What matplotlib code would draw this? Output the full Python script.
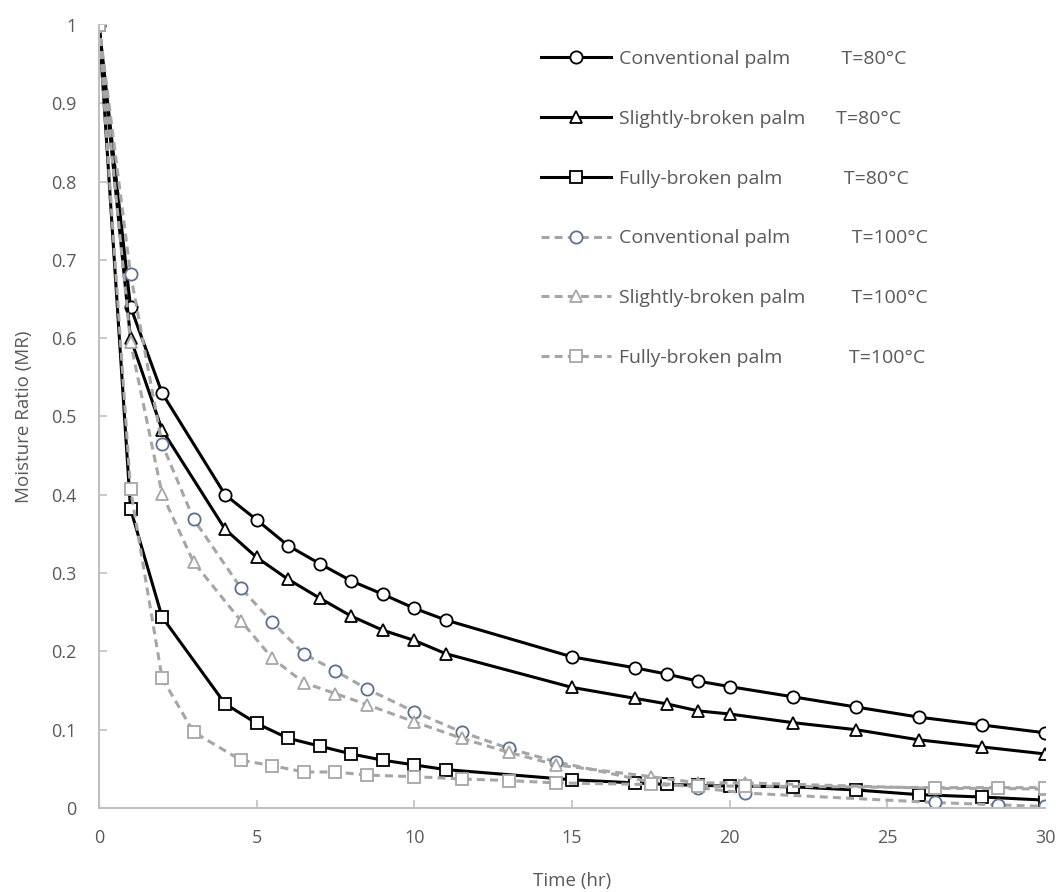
import matplotlib
matplotlib.use('Agg')
import matplotlib.pyplot as plt

plt.rcParams['font.family'] = ['Open Sans', 'DejaVu Sans']

# drying time (hr)
t_80 = [0, 1, 2, 4, 5, 6, 7, 8, 9, 10, 11, 15, 17, 18, 19, 20, 22, 24, 26, 28, 30]
t_100 = [0, 1, 2, 3, 4.5, 5.5, 6.5, 7.5, 8.5, 10, 11.5, 13, 14.5, 17.5, 19, 20.5, 26.5, 28.5, 30]

# moisture ratio, T=80°C
conv_80 = [1.0, 0.64, 0.53, 0.40, 0.368, 0.335, 0.312, 0.29, 0.273, 0.255, 0.24,
           0.193, 0.179, 0.171, 0.162, 0.155, 0.142, 0.129, 0.116, 0.106, 0.096]
slight_80 = [1.0, 0.60, 0.483, 0.356, 0.32, 0.292, 0.268, 0.245, 0.227, 0.214, 0.197,
             0.154, 0.14, 0.133, 0.124, 0.12, 0.109, 0.1, 0.087, 0.078, 0.069]
full_80 = [1.0, 0.382, 0.244, 0.133, 0.108, 0.089, 0.079, 0.069, 0.061, 0.055, 0.049,
           0.036, 0.032, 0.030, 0.029, 0.028, 0.027, 0.023, 0.017, 0.014, 0.010]

# moisture ratio, T=100°C
conv_100 = [1.0, 0.682, 0.465, 0.369, 0.281, 0.237, 0.197, 0.175, 0.152, 0.123, 0.097,
            0.076, 0.059, 0.033, 0.026, 0.019, 0.007, 0.004, 0.002]
slight_100 = [1.0, 0.595, 0.401, 0.314, 0.239, 0.191, 0.16, 0.146, 0.132, 0.11, 0.089,
              0.071, 0.055, 0.040, 0.032, 0.032, 0.025, 0.025, 0.024]
full_100 = [1.0, 0.407, 0.166, 0.097, 0.061, 0.054, 0.046, 0.046, 0.042, 0.04, 0.037,
            0.035, 0.032, 0.030, 0.028, 0.028, 0.026, 0.026, 0.026]

labels = ['Conventional palm' + ' ' * 10 + 'T=80°C',
          'Slightly-broken palm' + ' ' * 6 + 'T=80°C',
          'Fully-broken palm' + ' ' * 12 + 'T=80°C',
          'Conventional palm' + ' ' * 12 + 'T=100°C',
          'Slightly-broken palm' + ' ' * 9 + 'T=100°C',
          'Fully-broken palm' + ' ' * 13 + 'T=100°C']

fig = plt.figure(figsize=(10.62, 8.92), dpi=100)
ax = fig.add_axes([0.0932, 0.0942, 0.8908, 0.8778])

blk = dict(color='black', lw=2.2, mfc='white', ms=8.8, mew=1.3)
gry = dict(color='#A6A6A6', lw=2.2, ls=(0, (2.6, 1.7)), mfc='white', ms=8.8, mew=1.3)

ax.plot(t_80, conv_80, marker='o', mec='black', label=labels[0], **blk)
ax.plot(t_80, slight_80, marker='^', mec='black', label=labels[1], **blk)
ax.plot(t_80, full_80, marker='s', mec='black', label=labels[2], **blk)
ax.plot(t_100, conv_100, marker='o', mec='#5B7090', label=labels[3], **gry)
ax.plot(t_100, slight_100, marker='^', mec='#A6A6A6', label=labels[4], **gry)
ax.plot(t_100, full_100, marker='s', mec='#A6A6A6', label=labels[5], **gry)

ax.set_xlim(0, 30)
ax.set_ylim(0, 1)
ax.set_xticks(range(0, 31, 5))
ax.set_yticks([i / 10 for i in range(11)])
ax.set_yticklabels(['0', '0.1', '0.2', '0.3', '0.4', '0.5', '0.6', '0.7', '0.8', '0.9', '1'])

for s in ['top', 'right']:
    ax.spines[s].set_visible(False)
for s in ['left', 'bottom']:
    ax.spines[s].set_color('#BFBFBF')
    ax.spines[s].set_linewidth(1.5)
ax.tick_params(direction='in', length=6, width=1.2, color='#BFBFBF',
               labelcolor='#595959', labelsize=13, pad=15)
ax.tick_params(axis='y', pad=16)

ax.set_xlabel('Time (hr)', color='#595959', fontsize=13.5, labelpad=18)
ax.set_ylabel('Moisture Ratio (MR)', color='#595959', fontsize=13.5, labelpad=13)

leg = ax.legend(loc='upper left', bbox_to_anchor=(0.467, 0.968), frameon=False,
                fontsize=14, handlelength=3.6, handletextpad=0.4,
                labelspacing=2.15, borderaxespad=0, borderpad=0)
for txt in leg.get_texts():
    txt.set_color('#595959')

fig.savefig('out.png', dpi=100)
